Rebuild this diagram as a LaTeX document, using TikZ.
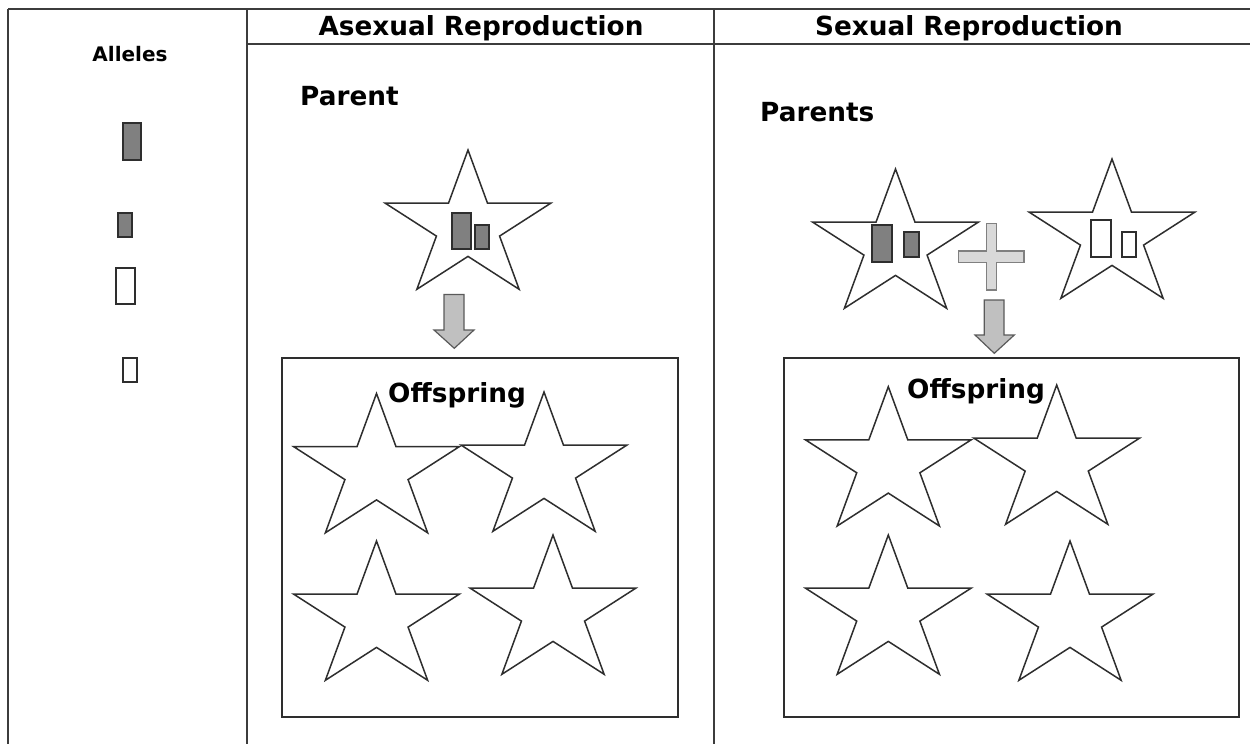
\documentclass[tikz,border=0pt]{standalone}
\usepackage{fontspec}
\setmainfont{DejaVu Sans}
\definecolor{linegray}{HTML}{3C3C3C}
\definecolor{stargray}{HTML}{2E2E2E}
\definecolor{allelefill}{HTML}{808080}
\definecolor{arrowfill}{HTML}{C0C0C0}
\definecolor{arrowdraw}{HTML}{5A5A5A}
\definecolor{plusfill}{HTML}{D9D9D9}
\definecolor{plusdraw}{HTML}{808080}
\tikzset{
  tableline/.style={draw=linegray, line width=2pt},
  boxline/.style={draw=stargray, line width=1.6pt},
  starline/.style={draw=stargray, line width=1.5pt, fill=white, line join=miter},
  darkallele/.style={draw=stargray, line width=1.5pt, fill=allelefill},
  lightallele/.style={draw=stargray, line width=1.5pt, fill=white},
  blockarrow/.style={draw=arrowdraw, line width=1.2pt, fill=arrowfill, line join=miter},
  plusshape/.style={draw=plusdraw, line width=1.2pt, fill=plusfill},
  bigtext/.style={inner sep=0pt, font=\fontsize{26.3}{30}\selectfont\bfseries},
  hdrtext/.style={inner sep=0pt, font=\fontsize{26.3}{30}\selectfont\bfseries},
  smalltext/.style={inner sep=0pt, font=\fontsize{20}{24}\selectfont\bfseries},
  pics/pstar/.style={code={
    \draw[starline] (-90:87 and 77) -- (-54:33.2 and 29.4) -- (-18:87 and 77)
      -- (18:33.2 and 29.4) -- (54:87 and 77) -- (90:33.2 and 29.4)
      -- (126:87 and 77) -- (162:33.2 and 29.4) -- (198:87 and 77)
      -- (234:33.2 and 29.4) -- cycle;
  }}
}
\begin{document}
\begin{tikzpicture}[x=1pt,y=-1pt]
\useasboundingbox (0,0) rectangle (1250,744);
% table
\draw[tableline] (8,9) -- (1250,9);
\draw[tableline] (247,43.5) -- (1250,43.5);
\draw[tableline] (8,9) -- (8,744);
\draw[tableline] (247,9) -- (247,744);
\draw[tableline] (714,9) -- (714,744);
% headers
\node[hdrtext, anchor=base] (hasex) at (481,35) {Asexual Reproduction};
\node[hdrtext, anchor=base] (hsex) at (969,35) {Sexual Reproduction};
\node[smalltext, anchor=base] (alleles) at (130,61) {Alleles};
% allele legend
\draw[darkallele] (123,123) rectangle (141,160);
\draw[darkallele] (118,213) rectangle (132,237);
\draw[lightallele] (116,268) rectangle (135,304);
\draw[lightallele] (123,358) rectangle (137,382);
% asexual parent
\node[bigtext, anchor=base west] (parent) at (300,105) {Parent};
\pic at (468,227) {pstar};
\draw[darkallele] (452,213) rectangle (471,249);
\draw[darkallele] (475,225) rectangle (489,249);
\draw[blockarrow] (444,294.5) -- (464,294.5) -- (464,330) -- (474,330) -- (454.3,348.3)
  -- (434,330) -- (444,330) -- cycle;
% asexual offspring
\draw[boxline] (282,358) rectangle (678,717);
\pic at (376.5,470.5) {pstar};
\pic at (544,469) {pstar};
\pic at (376.5,618) {pstar};
\pic at (553,612) {pstar};
\node[bigtext, anchor=base west] (offa) at (388,402) {Offspring};
% sexual parents
\node[bigtext, anchor=base west] (parents) at (760,121.7) {Parents};
\pic at (895.5,246) {pstar};
\pic at (1112,236) {pstar};
\draw[darkallele] (872,225) rectangle (892,262);
\draw[darkallele] (904,232) rectangle (919,257);
\draw[lightallele] (1091,220) rectangle (1111,257);
\draw[lightallele] (1122,232) rectangle (1136,257);
\draw[plusshape] (986.7,223.3) -- (996.7,223.3) -- (996.7,251) -- (1024,251) -- (1024,262.7)
  -- (996.7,262.7) -- (996.7,290) -- (986.7,290) -- (986.7,262.7) -- (958.3,262.7)
  -- (958.3,251) -- (986.7,251) -- cycle;
\draw[blockarrow] (984.3,300) -- (1004,300) -- (1004,335) -- (1014.3,335) -- (994.3,353.3)
  -- (975,335) -- (984.3,335) -- cycle;
% sexual offspring
\draw[boxline] (784,358) rectangle (1239,717);
\pic at (888.3,463.7) {pstar};
\pic at (1056.7,462) {pstar};
\pic at (888.3,612) {pstar};
\pic at (1070,618) {pstar};
\node[bigtext, anchor=base west] (offs) at (907,398.5) {Offspring};
\end{tikzpicture}
\end{document}
